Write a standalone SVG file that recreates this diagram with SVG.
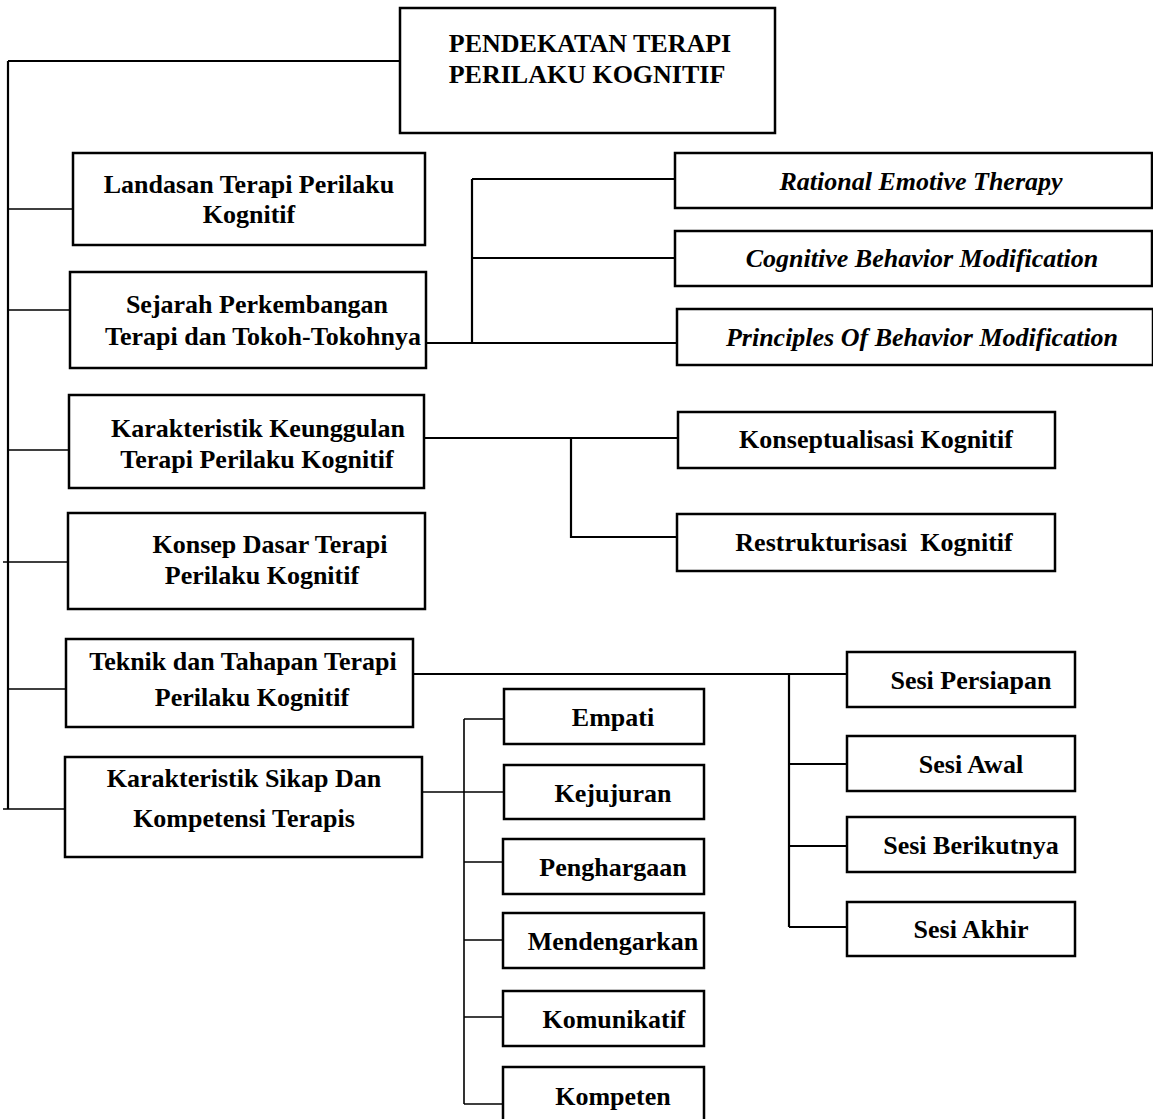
<svg xmlns="http://www.w3.org/2000/svg" width="1153" height="1119" viewBox="0 0 1153 1119">
<style>
.box{fill:#fff;stroke:#000;stroke-width:2.5}
.c{fill:none;stroke:#000;stroke-width:2.2}
.th{fill:none;stroke:#000;stroke-width:1.6}
.t{font-family:"Liberation Serif","Times New Roman",serif;font-weight:bold;font-size:26px;text-anchor:middle;fill:#000;white-space:pre}
.i{font-style:italic}
</style>
<rect width="1153" height="1119" fill="#fff"/>
<g id="connectors">
<path class="c" d="M8 61H400M8 61V809"/>
<path class="th" d="M8 209H73M8 310H70M8 450H69M3 562H68M8 689H66M3 809H65"/>
<path class="c" d="M426 343H677M472 179V343M472 179H675M472 258H675"/>
<path class="c" d="M424 438H678M571 438V537H677"/>
<path class="c" d="M413 674H847M789 674V927M789 764H847M789 846H847M789 927H847"/>
<path class="th" d="M422 792H504M464 719V1104M464 719H504M464 862H503M464 940H503M464 1017H503M464 1104H503"/>
</g>
<g id="root"><rect class="box" x="400" y="8" width="375" height="125"/><text class="t" x="590" y="52">PENDEKATAN TERAPI</text><text class="t" x="587" y="83">PERILAKU KOGNITIF</text></g>
<g id="landasan"><rect class="box" x="73" y="153" width="352" height="92"/><text class="t" x="249" y="193">Landasan Terapi Perilaku</text><text class="t" x="249" y="223">Kognitif</text></g>
<g id="sejarah"><rect class="box" x="70" y="272" width="356" height="96"/><text class="t" x="257" y="313">Sejarah Perkembangan</text><text class="t" x="263" y="345">Terapi dan Tokoh-Tokohnya</text></g>
<g id="keunggulan"><rect class="box" x="69" y="395" width="355" height="93"/><text class="t" x="258" y="437">Karakteristik Keunggulan</text><text class="t" x="257" y="468">Terapi Perilaku Kognitif</text></g>
<g id="konsep"><rect class="box" x="68" y="513" width="357" height="96"/><text class="t" x="270" y="553">Konsep Dasar Terapi</text><text class="t" x="262" y="584">Perilaku Kognitif</text></g>
<g id="teknik"><rect class="box" x="66" y="639" width="347" height="88"/><text class="t" x="243" y="670">Teknik dan Tahapan Terapi</text><text class="t" x="252" y="706">Perilaku Kognitif</text></g>
<g id="sikap"><rect class="box" x="65" y="757" width="357" height="100"/><text class="t" x="244" y="787">Karakteristik Sikap Dan</text><text class="t" x="244" y="827">Kompetensi Terapis</text></g>
<g id="ret"><rect class="box" x="675" y="153" width="477" height="55"/><text class="t i" x="921" y="190">Rational Emotive Therapy</text></g>
<g id="cbm"><rect class="box" x="675" y="231" width="477" height="55"/><text class="t i" x="922" y="267">Cognitive Behavior Modification</text></g>
<g id="pbm"><rect class="box" x="677" y="309" width="476" height="56"/><text class="t i" x="922" y="346">Principles Of Behavior Modification</text></g>
<g id="konseptualisasi"><rect class="box" x="678" y="412" width="377" height="56"/><text class="t" x="876" y="448">Konseptualisasi Kognitif</text></g>
<g id="restrukturisasi"><rect class="box" x="677" y="514" width="378" height="57"/><text class="t" x="874" y="551">Restrukturisasi  Kognitif</text></g>
<g id="persiapan"><rect class="box" x="847" y="652" width="228" height="55"/><text class="t" x="971" y="689">Sesi Persiapan</text></g>
<g id="awal"><rect class="box" x="847" y="736" width="228" height="55"/><text class="t" x="971" y="773">Sesi Awal</text></g>
<g id="berikutnya"><rect class="box" x="847" y="817" width="228" height="55"/><text class="t" x="971" y="854">Sesi Berikutnya</text></g>
<g id="akhir"><rect class="box" x="847" y="902" width="228" height="54"/><text class="t" x="971" y="938">Sesi Akhir</text></g>
<g id="empati"><rect class="box" x="504" y="689" width="200" height="55"/><text class="t" x="613" y="726">Empati</text></g>
<g id="kejujuran"><rect class="box" x="504" y="765" width="200" height="54"/><text class="t" x="613" y="802">Kejujuran</text></g>
<g id="penghargaan"><rect class="box" x="503" y="839" width="201" height="55"/><text class="t" x="613" y="876">Penghargaan</text></g>
<g id="mendengarkan"><rect class="box" x="503" y="913" width="201" height="55"/><text class="t" x="613" y="950">Mendengarkan</text></g>
<g id="komunikatif"><rect class="box" x="503" y="991" width="201" height="55"/><text class="t" x="614" y="1028">Komunikatif</text></g>
<g id="kompeten"><rect class="box" x="503" y="1067" width="201" height="55"/><text class="t" x="613" y="1105">Kompeten</text></g>
</svg>
